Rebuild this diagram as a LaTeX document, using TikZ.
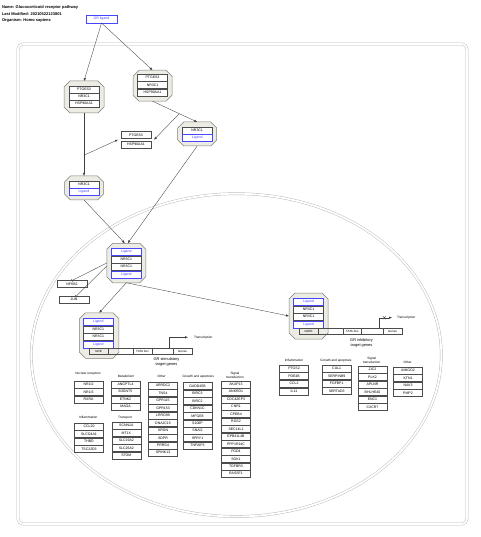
\documentclass[tikz,border=0pt]{standalone}
\usepackage{fontspec}
\setmainfont{Liberation Sans}
\usetikzlibrary{arrows.meta,shapes.misc,calc}

\definecolor{cplxfill}{RGB}{237,236,228}
\definecolor{cplxline}{RGB}{125,125,120}
\definecolor{ligblue}{RGB}{70,70,255}
\definecolor{memgray}{RGB}{185,185,185}

% chamfered outline round a complex node
\newcommand\cplxshape[1]{\draw[cplx] ([xshift=6pt]#1.north west) -- ([xshift=-6pt]#1.north east)
 -- ([yshift=-6pt]#1.north east) -- ([yshift=6pt]#1.south east) -- ([xshift=-6pt]#1.south east)
 -- ([xshift=6pt]#1.south west) -- ([yshift=6pt]#1.south west) -- ([yshift=-6pt]#1.north west) -- cycle;}

\begin{document}
\begin{tikzpicture}[x=1pt,y=-1pt]
\tikzstyle{every node}=[font=\fontsize{3.5}{4}\selectfont,inner sep=0pt,outer sep=0pt]
\tikzstyle{title}=[anchor=west,font=\fontsize{4}{5}\bfseries\selectfont]
\tikzstyle{gene}=[draw=black!70,fill=white,line width=0.35pt,minimum width=29pt,minimum height=7pt]
\tikzstyle{row}=[gene,minimum width=30pt]
\tikzstyle{ligand}=[row,draw=ligblue,text=ligblue]
\tikzstyle{cplx}=[draw=cplxline,fill=cplxfill,line width=0.5pt]
\tikzstyle{cat}=[align=center,font=\fontsize{3.2}{4}\selectfont]
\tikzstyle{lbl}=[align=center,font=\fontsize{3.9}{5.3}\selectfont]
\tikzstyle{dnabox}=[draw=black!70,line width=0.35pt,minimum height=6pt,font=\fontsize{3}{4}\selectfont]
\tikzstyle{dna}=[draw=black!70,line width=0.35pt]
\tikzstyle{conv}=[draw=black!75,line width=0.35pt,-{Latex[length=3pt,width=2.4pt]}]
\tikzstyle{inhib}=[draw=black!75,line width=0.35pt,-{Bar[width=3pt]}]
\tikzstyle{membrane}=[draw=memgray,line width=0.45pt,double=white,double distance=1.8pt]
\useasboundingbox (0,0) rectangle (480,537);

% cell and nucleus
\draw[membrane,rounded corners=5pt] (18,44) rectangle (467,524);
\draw[membrane] (236.3,355.1) ellipse [x radius=205pt,y radius=161.4pt];

\node[title] (hdname) at (2,7) {Name: Glucocorticoid receptor pathway};
\node[title] (hdmod) at (2,13.6) {Last Modified: 20210522123801};
\node[title] (hdorg) at (2,20.2) {Organism: Homo sapiens};

\node[ligand,minimum width=31pt,minimum height=8pt] (grl) at (101.5,19) {GR ligand};

% complexes in the cytoplasm
\node[minimum width=40pt,minimum height=32pt] (c1) at (84,97) {};
\cplxshape{c1}
\node[row] (c1ptg) at (84,89.3) {PTGES3};
\node[row] (c1gr) at (84,96.3) {NR3C1};
\node[row] (c1hsp) at (84,103.3) {HSP90AA1};

\node[minimum width=39pt,minimum height=31pt] (c2) at (152.5,85.7) {};
\cplxshape{c2}
\node[row] (c2ptg) at (152.5,77.5) {PTGES3};
\node[row] (c2gr) at (152.5,85) {NR3C1};
\node[row] (c2hsp) at (152.5,92.5) {HSP90AA1};

\node[row] (fb1) at (136,134.8) {PTGES3};
\node[row] (fb2) at (136,144.6) {HSP90AA1};
\coordinate (fbl) at ($(fb1.south west)!0.5!(fb2.north west)+(-3,0)$);
\coordinate (fbr) at ($(fb1.south east)!0.5!(fb2.north east)+(3,0)$);

\node[minimum width=39pt,minimum height=24pt] (c3) at (197.2,134) {};
\cplxshape{c3}
\node[row] (c3gr) at (197.2,130.3) {NR3C1};
\node[ligand] (c3lig) at (197.2,137.7) {Ligand};

\node[minimum width=39pt,minimum height=24pt] (c4) at (84,188) {};
\cplxshape{c4}
\node[row] (c4gr) at (84,184.6) {NR3C1};
\node[ligand] (c4lig) at (84,191.7) {Ligand};

% dimer in the nucleus
\node[minimum width=39pt,minimum height=39.5pt] (c5) at (126.3,263) {};
\cplxshape{c5}
\node[ligand] (c5liga) at (126.3,251.7) {Ligand};
\node[row] (c5gra) at (126.3,259.2) {NR3C1};
\node[row] (c5grb) at (126.3,266.7) {NR3C1};
\node[ligand] (c5ligb) at (126.3,274.4) {Ligand};

\node[row] (nfkb2) at (72,284) {NFKB2};
\node[row] (jun) at (74,299.8) {JUN};

% stimulatory GRE
\node[minimum width=39.5pt,minimum height=45.5pt] (c6) at (99.2,335.5) {};
\cplxshape{c6}
\node[ligand] (c6liga) at (98.3,321.7) {Ligand};
\node[row] (c6gra) at (98.3,329.2) {NR3C1};
\node[row] (c6grb) at (98.3,336.7) {NR3C1};
\node[ligand] (c6ligb) at (98.3,344.2) {Ligand};
\node[dnabox,minimum width=18.4pt] (gre) at (98.5,351.2) {GRE};
\node[dnabox,minimum width=19pt] (tata1) at (142.5,351.2) {TATA box};
\node[dnabox,minimum width=19pt] (genes1) at (182.5,351.2) {Genes};
\draw[dna] (gre.north east) -- (tata1.north west) (gre.south east) -- (tata1.south west)
 (tata1.north east) -- (genes1.north west) (tata1.south east) -- (genes1.south west);
\coordinate (tss1) at (169.3,348.2);
\node[anchor=west,font=\fontsize{3.2}{4}\selectfont] (tr1) at (194,337.3) {Transcription};
\node[lbl] (stimlbl) at (166.5,362) {GR stimulatory\\target genes};

% inhibitory nGRE
\node[minimum width=39pt,minimum height=46pt] (c7) at (308.5,316) {};
\cplxshape{c7}
\node[ligand] (c7liga) at (308.5,301.7) {Ligand};
\node[row] (c7gra) at (308.5,309.2) {NR3C1};
\node[row] (c7grb) at (308.5,316.7) {NR3C1};
\node[ligand] (c7ligb) at (308.5,324.2) {Ligand};
\node[dnabox,minimum width=19pt] (ngre) at (308.5,331.2) {nGRE};
\node[dnabox,minimum width=18.5pt] (tata2) at (352.3,331.2) {TATA box};
\node[dnabox,minimum width=18.5pt] (genes2) at (392.5,331.2) {Genes};
\draw[dna] (ngre.north east) -- (tata2.north west) (ngre.south east) -- (tata2.south west)
 (tata2.north east) -- (genes2.north west) (tata2.south east) -- (genes2.south west);
\coordinate (tss2) at (379.3,328.2);
\node[anchor=west,font=\fontsize{3.2}{4}\selectfont] (tr2) at (397,317.7) {Transcription};
\node[cross out,draw=black!75,line width=0.35pt,minimum size=3pt] (blk) at (384.3,317.7) {};
\node[lbl] (inhlbl) at (361.5,342.8) {GR inhibitory\\target genes};

% interactions
\coordinate (j1) at ($(c1.south)!0.67!(c4.north)$);
\coordinate (j2) at ($(c2.south)!0.6!(c3.north)$);
\draw[conv] (grl.south) -- (c1.north);
\draw[conv] (grl.south) -- (c2.north);
\draw[conv] (c1.south) -- (c4.north);
\draw[conv] (j1) -- (fbl);
\draw[conv] (c2.south) -- (c3.north);
\draw[conv] (j2) -- (fbr);
\draw[conv] (c3.south) -- ([xshift=1.5pt]c5.north);
\draw[conv] (c4.south) -- ([xshift=-1.5pt]c5.north);
\draw[inhib] (c5.west) -- (nfkb2.north);
\draw[inhib] ([yshift=-3pt]c5.west) -- ([xshift=2pt]jun.north);
\draw[conv] (c5.south) -- (c6.north);
\draw[conv] (c5.south) -- (c7.west);
\draw[conv] (tss1) |- ([xshift=-6pt]tr1.west);
\draw[conv] (tss2) |- ([xshift=-5pt]tr2.west);

% stimulatory target genes
\node[cat] (nrhd) at (88,373.3) {Nuclear receptors};
\node[gene] (nr1i2) at (88.5,384.3) {NR1I2};
\node[gene] (nr1i3) at (88.5,391.8) {NR1I3};
\node[gene] (rxra) at (88.5,399.3) {RXRA};

\node[cat] (methd) at (126,376.7) {Metabolism};
\node[gene] (angptl4) at (125.5,384.3) {ANGPTL4};
\node[gene] (b3gnt5) at (125.5,391.75) {B3GNT5};
\node[gene] (etnk2) at (125.5,399.2) {ETNK2};
\node[gene] (maoa) at (125.5,406.65) {MAOA};

\node[cat] (othhd) at (161.7,376.7) {Other};
\node[gene] (arrdc2) at (163,385.7) {ARRDC2};
\node[gene] (tns4) at (163,393.15) {TNS4};
\node[gene] (gpr115) at (163,400.6) {GPR115};
\node[gene] (gpr153) at (163,408.05) {GPR153};
\node[gene] (lrrc8b) at (163,415.5) {LRRC8B};
\node[gene] (dnajc15) at (163,422.95) {DNAJC15};
\node[gene] (srgn) at (163,430.4) {SRGN};
\node[gene] (sdpr) at (163,437.85) {SDPR};
\node[gene] (prrg4) at (163,445.3) {PRRG4};
\node[gene] (spink13) at (163,452.75) {SPINK13};

\node[cat] (grohd) at (198.3,376.7) {Growth and apoptosis};
\node[gene] (gadd45b) at (197.5,386) {GADD45B};
\node[gene] (birc3) at (197.5,393.45) {BIRC3};
\node[gene] (birc2) at (197.5,400.9) {BIRC2};
\node[gene] (cdkn1c) at (197.5,408.35) {CDKN1C};
\node[gene] (mfge8) at (197.5,415.8) {MFGE8};
\node[gene] (s100p) at (197.5,423.25) {S100P};
\node[gene] (snai2) at (197.5,430.7) {SNAI2};
\node[gene] (spry1) at (197.5,438.15) {SPRY1};
\node[gene] (tnfaip3) at (197.5,445.6) {TNFAIP3};

\node[cat] (sighd) at (235,375.3) {Signal\\transduction};
\node[gene] (akap13) at (236,384.3) {AKAP13};
\node[gene] (ankrd1) at (236,391.75) {ANKRD1};
\node[gene] (cdc42ep3) at (236,399.2) {CDC42EP3};
\node[gene] (cnr1) at (236,406.65) {CNR1};
\node[gene] (cpeb4) at (236,414.1) {CPEB4};
\node[gene] (rgs2) at (236,421.55) {RGS2};
\node[gene] (sec14l1) at (236,429) {SEC14L1};
\node[gene] (epb41l4b) at (236,436.45) {EPB41L4B};
\node[gene] (ppp1r15c) at (236,443.9) {PPP1R14C};
\node[gene] (fgd4) at (236,451.35) {FGD4};
\node[gene] (sgk1) at (236,458.8) {SGK1};
\node[gene] (tgfbr3) at (236,466.25) {TGFBR3};
\node[gene] (rassf1) at (236,473.7) {RASSF1};

\node[cat] (infhd) at (88.3,417.7) {Inflammation};
\node[gene] (ccl20) at (89,426.7) {CCL20};
\node[gene] (slco4a1) at (89,434.15) {SLCO4A1};
\node[gene] (thbd) at (89,441.6) {THBD};
\node[gene] (tsc22d3) at (89,449.05) {TSC22D3};

\node[cat] (trahd) at (125,417.7) {Transport};
\node[gene] (scnn1a) at (126.3,425.7) {SCNN1A};
\node[gene] (mt1x) at (126.3,433.15) {MT1X};
\node[gene] (slc19a2) at (126.3,440.6) {SLC19A2};
\node[gene] (slc26a2) at (126.3,448.05) {SLC26A2};
\node[gene] (stom) at (126.3,455.5) {STOM};

% inhibitory target genes
\node[cat] (iinfhd) at (294,360.7) {Inflammation};
\node[gene] (ptgs2) at (294,368.5) {PTGS2};
\node[gene] (pde4b) at (294,376.1) {PDE4B};
\node[gene] (ccl2) at (294,383.7) {CCL2};
\node[gene] (il11) at (294,391.3) {IL11};

\node[cat] (igrohd) at (336,360.7) {Growth and apoptosis};
\node[gene] (cul1) at (336.7,368.5) {CUL1};
\node[gene] (serpinb9) at (336.7,376) {SERPINB9};
\node[gene] (fgfbp1) at (336.7,383.5) {FGFBP1};
\node[gene] (sertad3) at (336.7,391) {SERTAD3};

\node[cat] (isighd) at (371.7,360.5) {Signal\\transduction};
\node[gene] (zic2) at (372.5,369.3) {ZIC2};
\node[gene] (plk2) at (372.5,376.8) {PLK2};
\node[gene] (aplnr) at (372.5,384.3) {APLNR};
\node[gene] (bhlhe40) at (372.5,391.8) {BHLHE40};
\node[gene] (enc1) at (372.5,399.3) {ENC1};
\node[gene] (cxcr7) at (372.5,406.8) {CXCR7};

\node[cat] (iothhd) at (407.7,362.7) {Other};
\node[gene] (amigo2) at (408,370.5) {AMIGO2};
\node[gene] (ktn1) at (408,378) {KTN1};
\node[gene] (nav3) at (408,385.5) {NAV3};
\node[gene] (pmp2) at (408,393) {PMP2};
\end{tikzpicture}
\end{document}
